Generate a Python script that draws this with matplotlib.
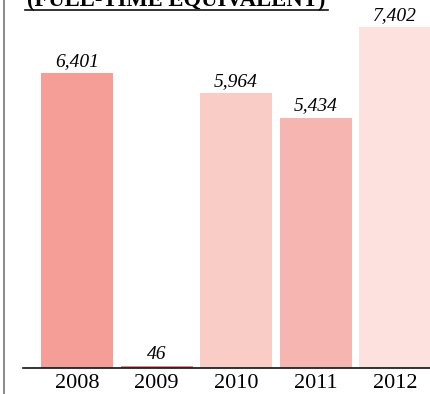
import matplotlib.pyplot as plt

# Staff numbers per year (full-time equivalent)
years = ["2008", "2009", "2010", "2011", "2012"]
fte = [6401, 46, 5964, 5434, 7402]
colors = ["#F59E98", "#F08682", "#F9CCC6", "#F7B5B1", "#FDE1DE"]

plt.rcParams["font.family"] = ["Liberation Serif", "DejaVu Serif"]

fig = plt.figure(figsize=(4.30, 3.94), dpi=100)
ax = fig.add_axes([23 / 430, 26 / 394, 407 / 430, 368 / 394])

x = range(len(years))
bars = ax.bar(x, fte, width=0.905, color=colors, linewidth=0)

for xi, v in zip(x, fte):
    ax.annotate(f"{v:,}", (xi, v), xytext=(0, 5), textcoords="offset points",
                ha="center", va="baseline", fontsize=14, style="italic")

ax.set_xlim(-0.68, 4.44)
ax.set_ylim(0, 7984)
ax.set_xticks(list(x))
ax.set_xticklabels(years, fontsize=16)
ax.tick_params(axis="x", length=0, pad=4)
ax.set_yticks([])
for side in ["top", "right", "left"]:
    ax.spines[side].set_visible(False)
ax.spines["bottom"].set_linewidth(1.2)
ax.spines["bottom"].set_color("#111111")

# Left frame line
fig.add_artist(plt.Line2D([3.5 / 430, 3.5 / 430], [0, 1], color="#777777", lw=1.2))

# Heading, mostly above the visible area
fig.text(176.5 / 430, 1 - 6.5 / 394, "(FULL-TIME EQUIVALENT)", ha="center", va="baseline",
         fontsize=16.3, fontweight="bold")
fig.add_artist(plt.Line2D([25 / 430, 328 / 430], [1 - 10 / 394] * 2, color="#111111", lw=1.2))

fig.savefig("out.png", dpi=100)
